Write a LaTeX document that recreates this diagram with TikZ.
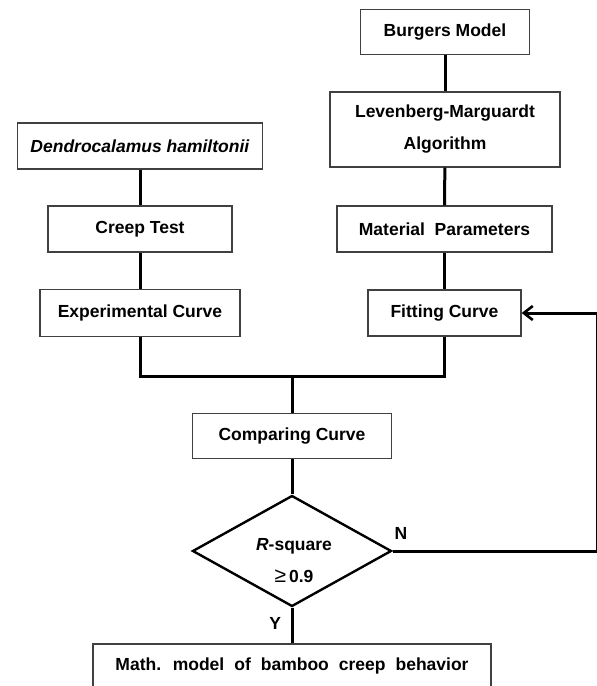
\documentclass[tikz,border=0pt]{standalone}
\usepackage{fontspec}
\setmainfont{Liberation Sans}
\usepackage{tikz}
\usetikzlibrary{arrows.meta,shapes.geometric}

\begin{document}
\begin{tikzpicture}[
x=1pt,y=-1pt,
font=\bfseries\fontsize{17.5}{32}\selectfont,
box/.style={draw=black!75,line width=1.3pt,fill=white,inner sep=0pt,align=center},
decision/.style={diamond,draw=black,line width=2.4pt,inner sep=0pt,minimum width=199pt,minimum height=111pt},
link/.style={line width=3pt},
feedback/.style={line width=3pt,-{Straight Barb[length=9pt,width=14pt,line width=2.6pt]}}]
    \useasboundingbox (0,0) rectangle (597,686);
    \clip (0,0) rectangle (597,686);

    % Left branch: test
    \node[box,minimum width=245pt,minimum height=46pt] (dend) at (140,146) {\textit{Dendrocalamus hamiltonii}};
    \node[box,minimum width=184pt,minimum height=46pt] (creep) at (140,229) {Creep Test};
    \node[box,minimum width=200pt,minimum height=47pt] (expc) at (140,313) {Experimental Curve};

    % Right branch: model
    \node[box,minimum width=169pt,minimum height=45pt] (burg) at (445,32) {Burgers Model};
    \node[box,minimum width=230pt,minimum height=75pt] (lma) at (445,129.5) {Levenberg-Marguardt\\Algorithm};
    \node[box,minimum width=215pt,minimum height=46pt] (matp) at (444.5,229) {Material~~Parameters};
    \node[box,minimum width=153pt,minimum height=46pt] (fitc) at (444.5,313) {Fitting Curve};

    % Comparison and check
    \node[box,minimum width=199pt,minimum height=45pt] (comp) at (292,436) {Comparing Curve};
    \node[decision] (rsq) at (292,551) {};
    \node[align=center] (rsqtxt) at (294,561) {\textit{R}-square\\{\mdseries\fontsize{21}{32}\selectfont ≥}\,0.9};
    \node[box,minimum width=398pt,minimum height=44pt] (math) at (292,666) {\spaceskip=10pt Math. model of bamboo creep behavior};

    \coordinate (join) at (292,376);
    \coordinate (back) at (597.5,551);

    \draw[link] (dend) -- (creep);
    \draw[link] (creep) -- (expc);
    \draw[link] (burg) -- (lma);
    \draw[link] (lma) -- (matp);
    \draw[link] (matp) -- (fitc);
    \draw[link] (expc.south) |- (join) -| (fitc.south);
    \draw[link] (join) -- (comp);
    \draw[link] (comp) -- (rsq);
    \draw[link] (rsq.south) -- (math) node[pos=0.45,left=6pt] (ylab) {Y};
    \draw[feedback] (rsq.east) -- (back) |- (fitc.east);
    \node (nlab) at (401,533) {N};

\end{tikzpicture}
\end{document}
